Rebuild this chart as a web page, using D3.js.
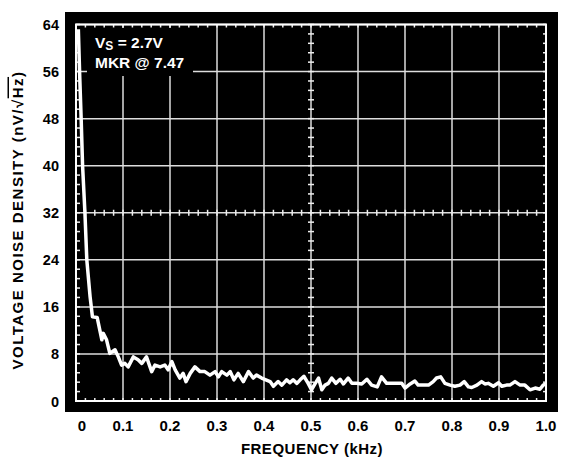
<!DOCTYPE html>
<meta charset="utf-8">
<style>
body { margin: 0; background: #fff; }
text { font-family: "Liberation Sans", Arial, sans-serif; font-weight: bold; }
</style>
<script src="https://d3js.org/d3.v7.min.js"></script>
<div id="chart"></div>
<script>
// frequency (kHz) and noise density (nV/rtHz)
var freq = [0.005, 0.008, 0.011, 0.014, 0.019, 0.023, 0.030, 0.035, 0.045, 0.055, 0.058, 0.065,
  0.072, 0.083, 0.090, 0.097, 0.104, 0.111, 0.122, 0.132, 0.140, 0.150, 0.161, 0.168, 0.179,
  0.189, 0.196, 0.204, 0.211, 0.221, 0.228, 0.234, 0.243, 0.253, 0.264, 0.274, 0.285, 0.296,
  0.303, 0.310, 0.321, 0.328, 0.336, 0.345, 0.356, 0.367, 0.377, 0.384, 0.395, 0.404, 0.413,
  0.420, 0.430, 0.438, 0.448, 0.455, 0.462, 0.470, 0.477, 0.485, 0.494, 0.501, 0.509, 0.516,
  0.523, 0.530, 0.537, 0.544, 0.553, 0.562, 0.569, 0.579, 0.587, 0.597, 0.608, 0.619, 0.629,
  0.641, 0.650, 0.661, 0.672, 0.682, 0.693, 0.700, 0.711, 0.721, 0.728, 0.739, 0.750, 0.760,
  0.767, 0.776, 0.785, 0.796, 0.806, 0.817, 0.826, 0.835, 0.842, 0.853, 0.863, 0.870, 0.877,
  0.888, 0.899, 0.906, 0.916, 0.923, 0.934, 0.945, 0.955, 0.966, 0.977, 0.987, 0.994, 1.0];
var noise = [63.2, 55, 47.9, 40, 32, 24, 17.7, 14.3, 14.2, 10.4, 11.5, 10.4,
  8.1, 8.7, 7.5, 6.1, 6.4, 5.8, 7.5, 7.0, 6.4, 7.5, 5.0, 6.1, 5.8,
  6.1, 5.3, 6.7, 5.3, 3.9, 4.7, 3.3, 4.7, 5.8, 5.0, 5.0, 4.4, 5.0,
  4.1, 5.0, 4.4, 5.0, 3.6, 4.7, 3.3, 5.0, 3.9, 4.4, 3.9, 3.6, 3.3,
  2.5, 3.3, 2.7, 3.6, 3.1, 3.6, 3.0, 3.6, 4.2, 3.0, 1.9, 3.0, 3.9,
  1.9, 2.7, 3.0, 3.9, 3.0, 3.7, 2.9, 3.9, 3.0, 3.0, 2.9, 3.7, 2.7,
  2.4, 4.1, 3.0, 3.0, 3.0, 3.0, 2.2, 2.9, 3.4, 2.7, 2.7, 2.7, 3.3,
  3.9, 4.1, 3.0, 2.7, 2.5, 2.7, 3.3, 2.4, 2.3, 2.7, 3.3, 2.9, 3.0,
  2.5, 3.1, 2.5, 2.7, 2.7, 3.3, 2.7, 2.7, 1.9, 2.2, 2.0, 2.7, 2.9];
var xTicks = [0, 0.1, 0.2, 0.3, 0.4, 0.5, 0.6, 0.7, 0.8, 0.9, 1.0];
var yTicks = [0, 8, 16, 24, 32, 40, 48, 56, 64];

var W = 562, H = 464;
var svg = d3.select("#chart").append("svg").attr("width", W).attr("height", H);

var x = d3.scaleLinear().domain([0, 1]).range([76, 546]);
var y = d3.scaleLinear().domain([0, 64]).range([401, 24.5]);

// black frame
svg.append("rect").attr("x", 65).attr("y", 12).attr("width", 493).attr("height", 400).attr("fill", "#000");

// grid
var grid = svg.append("g").attr("stroke", "#ddd").attr("stroke-width", 1.5);
grid.selectAll(".gx").data(xTicks).enter().append("line")
  .attr("x1", d => x(d)).attr("x2", d => x(d)).attr("y1", y(0)).attr("y2", y(64));
grid.selectAll(".gy").data(yTicks).enter().append("line")
  .attr("y1", d => y(d)).attr("y2", d => y(d)).attr("x1", x(0)).attr("x2", x(1));

// minor ticks
var minorX = d3.range(0, 51).map(i => i * 0.02);
var minorY = d3.range(0, 41).map(i => i * 1.6);
var mt = svg.append("g").attr("stroke", "#eee").attr("stroke-width", 1.5);
function tk(data, f) { mt.selectAll(null).data(data).enter().append("line").each(f); }
tk(minorX, function(d) { d3.select(this).attr("x1", x(d)).attr("x2", x(d)).attr("y1", y(64)).attr("y2", y(64) + 3); });
tk(minorX, function(d) { d3.select(this).attr("x1", x(d)).attr("x2", x(d)).attr("y1", y(0)).attr("y2", y(0) - 3); });
tk(minorX, function(d) { d3.select(this).attr("x1", x(d)).attr("x2", x(d)).attr("y1", y(32) - 3).attr("y2", y(32) + 3); });
tk(minorY, function(d) { d3.select(this).attr("y1", y(d)).attr("y2", y(d)).attr("x1", x(0)).attr("x2", x(0) + 4); });
tk(minorY, function(d) { d3.select(this).attr("y1", y(d)).attr("y2", y(d)).attr("x1", x(1)).attr("x2", x(1) - 3); });
tk(minorY, function(d) { d3.select(this).attr("y1", y(d)).attr("y2", y(d)).attr("x1", x(0.5) - 3).attr("x2", x(0.5) + 3); });

// plot border
svg.append("rect").attr("x", x(0)).attr("y", y(64)).attr("width", x(1) - x(0)).attr("height", y(0) - y(64))
  .attr("fill", "none").attr("stroke", "#fff").attr("stroke-width", 2);

// label box
svg.append("rect").attr("x", 87).attr("y", 28).attr("width", 106).attr("height", 48).attr("fill", "#000");
var lab = svg.append("text").attr("x", 95).attr("y", 48).attr("fill", "#fff").style("font-size", "15.5px");
lab.append("tspan").text("V");
lab.append("tspan").attr("dy", 2).style("font-size", "12px").text("S");
lab.append("tspan").attr("dy", -2).text(" = 2.7V");
svg.append("text").attr("x", 95).attr("y", 67.5).attr("fill", "#fff").style("font-size", "15.5px").text("MKR @ 7.47");

// trace
var pts = freq.map((f, i) => [f, noise[i]]);
svg.append("path").datum(pts)
  .attr("fill", "none").attr("stroke", "#fff").attr("stroke-width", 3.5).attr("stroke-linejoin", "round")
  .attr("d", d3.line().x(d => x(d[0])).y(d => y(d[1])));

// axis labels
svg.selectAll(".xl").data(xTicks).enter().append("text")
  .attr("x", (d, i) => x(d) + (i == 0 ? 6 : 0)).attr("y", 431).attr("text-anchor", "middle")
  .style("font-size", "15px").text(d => d == 0 ? "0" : d.toFixed(1));
svg.selectAll(".yl").data(yTicks).enter().append("text")
  .attr("x", 59).attr("y", d => y(d) + 5.5).attr("text-anchor", "end")
  .style("font-size", "14.5px").text(d => d);

svg.append("text").attr("x", 312).attr("y", 454).attr("text-anchor", "middle")
  .style("font-size", "15px").style("letter-spacing", "0.5px").text("FREQUENCY (kHz)");

var yt = svg.append("text").attr("transform", "translate(22.5,220) rotate(-90)").attr("text-anchor", "middle")
  .style("font-size", "15px").style("letter-spacing", "1.5px");
yt.append("tspan").text("VOLTAGE NOISE DENSITY (nV/\u221A");
yt.append("tspan").style("text-decoration", "overline").text("Hz");
yt.append("tspan").text(")");
</script>
